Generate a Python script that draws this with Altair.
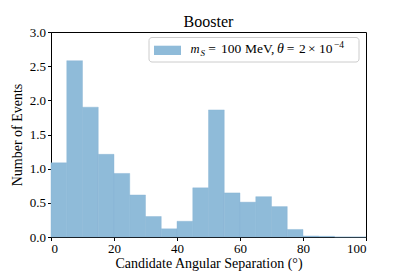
import altair as alt
import pandas as pd

bin_start = [0, 5, 10, 15, 20, 25, 30, 35, 40, 45, 50, 55, 60, 65, 70, 75, 80, 85, 90, 95]
counts = [1.085, 2.58, 1.90, 1.21, 0.93, 0.615, 0.30, 0.12, 0.23, 0.72,
          1.86, 0.645, 0.51, 0.59, 0.445, 0.11, 0.015, 0.01, 0.0, 0.0]
bin_width = 5

df = pd.DataFrame({"start": bin_start, "count": counts})
df["end"] = df["start"] + bin_width

FONT = "Liberation Serif"
FILL = "#8fbbd9"

W, H = 315, 205

bars = alt.Chart(df).mark_rect(fill=FILL, stroke="#86b4d4", strokeWidth=0.4).encode(
    x=alt.X("start:Q", scale=alt.Scale(domain=[0, 100], nice=False),
            axis=alt.Axis(values=[0, 20, 40, 60, 80, 100], format="d",
                          title="Candidate Angular Separation (°)")),
    x2="end:Q",
    y=alt.Y("count:Q", scale=alt.Scale(domain=[0, 3], nice=False),
            axis=alt.Axis(values=[0, 0.5, 1, 1.5, 2, 2.5, 3], format=".1f",
                          title="Number of Events")),
    y2=alt.datum(0),
)

one = pd.DataFrame({"a": [0]})

# legend box
box = alt.Chart(one).mark_rect(
    fill="white", fillOpacity=0.8, stroke="#cccccc", strokeWidth=1, cornerRadius=3
).encode(x=alt.value(98), x2=alt.value(308), y=alt.value(5.5), y2=alt.value(30))

patch = alt.Chart(one).mark_rect(fill=FILL).encode(
    x=alt.value(103), x2=alt.value(130), y=alt.value(13.7), y2=alt.value(23)
)

def txt(s, x, y, size=13.5, style="normal"):
    return alt.Chart(pd.DataFrame({"t": [s]})).mark_text(
        font=FONT, fontSize=size, fontStyle=style, align="left", baseline="alphabetic",
        color="black"
    ).encode(text="t:N", x=alt.value(x), y=alt.value(y))

BL = 21
legend_parts = [
    txt("m", 139.5, BL, 12.5, "italic"),
    txt("S", 149.5, BL + 2.5, 9, "italic"),
    txt("=", 157.3, BL),
    txt("100", 170, BL),
    txt("MeV,", 194, BL),
    txt("θ", 226, BL, 14, "italic"),
    txt("=", 235.7, BL),
    txt("2", 248, BL),
    txt("×", 257, BL),
    txt("10", 268, BL),
    txt("−4", 283, BL - 5, 9.5),
]

chart = alt.layer(bars, box, patch, *legend_parts).properties(
    width=W, height=H,
    title=alt.TitleParams("Booster", font=FONT, fontSize=16, fontWeight="normal",
                          color="black", offset=-4),
    autosize=alt.AutoSizeParams(type="none"),
    padding={"left": 43, "top": 24, "right": 33, "bottom": 34},
).configure_view(stroke="black", strokeWidth=1).configure_axis(
    labelFont=FONT, titleFont=FONT, labelFontSize=13, titleFontSize=14,
    titleFontWeight="normal", labelColor="black", titleColor="black",
    domainColor="black", tickColor="black", tickSize=3.5, labelPadding=2,
    grid=False, domainWidth=1, tickWidth=1,
).configure_axisX(titlePadding=1).configure_axisY(titlePadding=5)

chart.save("out.html", embed_options={"renderer": "svg", "actions": False})
